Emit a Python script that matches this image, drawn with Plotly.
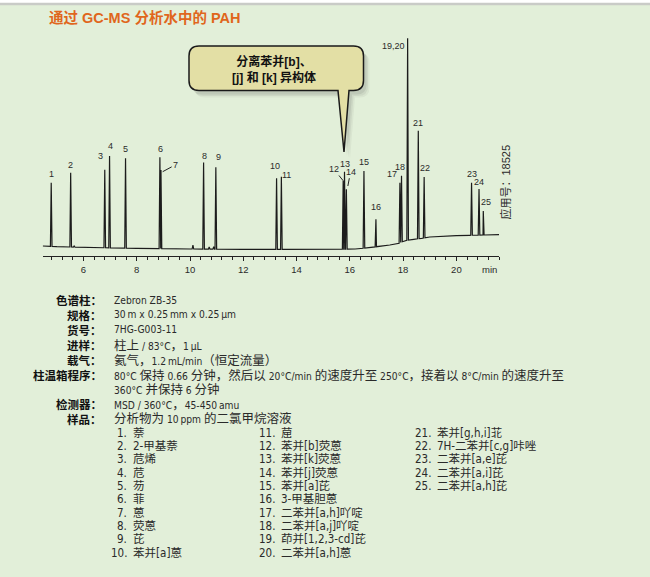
import re
import numpy as np
import plotly.graph_objects as go

W, H = 650, 577

# ---------------- data ----------------
peak_labels = ["1", "2", "3", "4", "5", "6", "7", "8", "9", "10", "11", "12", "13",
               "14", "15", "16", "17", "18", "19,20", "21", "22", "23", "24", "25"]
retention_min = [4.79, 5.52, 6.80, 6.98, 7.58, 8.87, 8.91, 10.51, 10.97, 13.25, 13.43,
                 15.75, 15.80, 15.87, 16.53, 16.98, 17.88, 17.94, 18.17, 18.57, 18.79,
                 20.57, 20.85, 21.01]
peak_response = [73.3, 83.3, 86.3, 100.0, 97.7, 98.7, 86.0, 93.5, 88.7, 77.7, 79.3,
                 75.3, 84.3, 66.7, 85.0, 36.7, 73.3, 80.3, 217.7, 125.3, 79.0,
                 73.3, 67.0, 45.0]
minor_rt = [5.65, 10.11, 10.72, 10.89]
minor_response = [10.0, 11.0, 9.0, 9.3]
baseline_t = [4.47, 5.0, 6.0, 7.2, 8.0, 10.0, 12.0, 14.0, 15.6, 16.2, 16.5, 17.0, 17.5,
              17.85, 18.05, 18.4, 18.7, 19.0, 19.5, 20.0, 20.5, 21.0, 21.6]
baseline_v = [10.0, 9.3, 8.7, 8.0, 7.7, 7.0, 6.7, 6.7, 6.7, 7.0, 7.7, 9.3, 11.0,
              12.7, 15.3, 16.7, 17.7, 19.0, 20.0, 20.3, 20.7, 21.0, 21.3]
tick_vals = [6, 8, 10, 12, 14, 16, 18, 20]

title_text = "通过 GC-MS 分析水中的 PAH"
callout_text = "分离苯并[b]、<br>[j] 和 [k] 异构体"
app_no_text = "应用号：18525"

spec_labels = ["色谱柱：", "规格：", "货号：", "进样：", "载气：", "柱温箱程序：", "",
               "检测器：", "样品："]
spec_values = ["Zebron ZB-35",
               "30\u2009m x 0.25\u2009mm x 0.25\u2009µm",
               "7HG-G003-11",
               "柱上 / 83°C，1\u2009µL",
               "氦气，1.2\u2009mL/min（恒定流量）",
               "80°C 保持 0.66 分钟，然后以 20°C/min 的速度升至 250°C，接着以 8°C/min 的速度升至",
               "360°C 并保持 6 分钟",
               "MSD / 360°C，45-450\u2009amu",
               "分析物为 10\u2009ppm 的二氯甲烷溶液"]

compound_names = ["萘", "2-甲基萘", "苊烯", "苊", "芴", "菲", "蒽", "荧蒽", "芘", "苯并[a]蒽",
                  "䓛", "苯并[b]荧蒽", "苯并[k]荧蒽", "苯并[j]荧蒽", "苯并[a]芘", "3-甲基胆蒽",
                  "二苯并[a,h]吖啶", "二苯并[a,j]吖啶", "茚并[1,2,3-cd]芘", "二苯并[a,h]蒽",
                  "苯并[g,h,i]苝", "7H-二苯并[c,g]咔唑", "二苯并[a,e]芘", "二苯并[a,i]芘",
                  "二苯并[a,h]芘"]

# ---------------- layout helpers ----------------
def px(x):
    return x / W


def py(y):
    return 1 - y / H


LAT = "Liberation Sans, Arial, Noto Sans CJK SC, sans-serif"
NARROW = "Liberation Sans Narrow, DejaVu Sans Condensed, Noto Sans CJK SC, sans-serif"
CJK = "Noto Sans CJK SC, sans-serif"
TXT = "#2a2a2a"
CJK_RUN = re.compile(r"([\u3000-\u303f\u4e00-\u9fff\u3400-\u4dbf\uff00-\uffef]+)")


def mixed(text, cjk_size):
    out = ""
    for part in CJK_RUN.split(text):
        if not part:
            continue
        if CJK_RUN.fullmatch(part):
            out += f'<span style="font-size:{cjk_size}px">{part}</span>'
        else:
            out += part
    return out


# ---------------- chromatogram trace ----------------
half_w = 0.03
pts = list(zip(baseline_t, baseline_v))
for rt, h in zip(retention_min + minor_rt, peak_response + minor_response):
    for dt in (-half_w, half_w):
        pts.append((rt + dt, float(np.interp(rt + dt, baseline_t, baseline_v))))
    pts.append((rt, h))
pts.sort(key=lambda p: p[0])
tx = [p[0] for p in pts]
ty = [p[1] for p in pts]

fig = go.Figure()
fig.add_trace(go.Scatter(x=tx, y=ty, mode="lines",
                         line=dict(color="#1c1c1c", width=1.2),
                         hoverinfo="skip", showlegend=False))

# ---------------- shapes ----------------
shapes = []
shapes.append(dict(type="rect", xref="paper", yref="paper", x0=0, x1=1, y0=0, y1=py(4.5),
                   fillcolor="#e2efd9", line=dict(width=0), layer="below"))
shapes.append(dict(type="line", xref="paper", yref="paper", x0=0, x1=1, y0=py(4), y1=py(4),
                   line=dict(color="#c9cbc7", width=2.5), layer="below"))


def callout_path(dx=0.0, dy=0.0):
    L, R, T, B, r = 189 + dx, 363.5 + dx, 46 + dy, 90.5 + dy, 10
    p1, p2, tip = 338 + dx, 349 + dx, (344 + dx, 152 + dy)
    seq = [("M", (L + r, T)), ("L", (R - r, T)), ("Q", (R, T), (R, T + r)),
           ("L", (R, B - r)), ("Q", (R, B), (R - r, B)), ("L", (p2, B)), ("L", tip),
           ("L", (p1, B)), ("L", (L + r, B)), ("Q", (L, B), (L, B - r)),
           ("L", (L, T + r)), ("Q", (L, T), (L + r, T))]
    out = ""
    for item in seq:
        cmd = item[0]
        coords = " ".join(f"{px(a):.5f},{py(b):.5f}" for a, b in item[1:])
        out += f"{cmd} {coords} "
    return out + "Z"


for off, op in [(6, 0.05), (4.5, 0.07), (3, 0.09)]:
    shapes.append(dict(type="path", xref="paper", yref="paper", path=callout_path(off, off + 1),
                       fillcolor=f"rgba(60,60,50,{op})", line=dict(width=0)))
shapes.append(dict(type="path", xref="paper", yref="paper", path=callout_path(),
                   fillcolor="#e3dfa5", line=dict(color="#1a1a1a", width=1.5)))

# ---------------- annotations ----------------
ann = []


def note(x, y, text, font, xanchor="center", **kw):
    ann.append(dict(x=px(x), y=py(y), xref="paper", yref="paper", xanchor=xanchor,
                    yanchor="middle", showarrow=False, text=text, font=font, **kw))


note(46.5, 17.5, f"<b>{title_text}</b>", dict(family=LAT, size=14.5, color="#e0661c"),
     xanchor="left")
note(274, 69.7, f"<b>{callout_text}</b>", dict(family=LAT, size=12, color="#111111"))
note(504.5, 182, app_no_text, dict(family=LAT, size=11, color=TXT), textangle=-90)
note(489, 269.5, "min", dict(family=LAT, size=9.5, color=TXT))

# peak label placement (pixel offsets of label centre from the peak apex)
label_offset = {"1": (0.5, 8.5), "2": (-0.5, 8), "3": (-4.4, 13.6), "4": (1, 10.3),
                "5": (0.3, 9.3), "6": (0.7, 8.3), "8": (0.6, 7), "9": (3, 10),
                "10": (-1.5, 12.3), "11": (4.7, 1.7), "13": (0.8, 7.7), "15": (0.3, 8.7),
                "16": (0, 12), "17": (-8, 8.4), "18": (-2, 8.7), "19,20": (-14.4, -7.4),
                "21": (0, 7.4), "22": (1, 9), "23": (0, 8.7), "24": (0, 7.3), "25": (2.7, 9)}
label_arrow = {"7": (1.7, -1.7, 13, -7), "12": (0, 0, -9.4, -11.7), "14": (1.5, 3.3, 2.7, -14.3)}

for lab, rt, h in zip(peak_labels, retention_min, peak_response):
    f = dict(family=LAT, size=9, color=TXT)
    if lab in label_arrow:
        sx, sy, ax, ay = label_arrow[lab]
        ann.append(dict(x=rt, y=h, xref="x", yref="y", xshift=sx, yshift=sy, text=lab,
                        showarrow=True, arrowhead=0, arrowwidth=1, arrowcolor="#222",
                        ax=ax, ay=ay, standoff=0, font=f))
    else:
        dx, dy = label_offset[lab]
        ann.append(dict(x=rt, y=h, xref="x", yref="y", xshift=dx, yshift=dy, text=lab,
                        xanchor="center", yanchor="middle", showarrow=False, font=f))

# method block
spec_rows_y = [300, 315, 330, 345, 360, 375, 389.5, 404, 418.5]
for lab, val, yy in zip(spec_labels, spec_values, spec_rows_y):
    if lab:
        note(104, yy, f"<b>{lab}</b>", dict(family=CJK, size=11.5, color="#111111"),
             xanchor="right")
    note(112, yy, mixed(val, 12.5), dict(family=NARROW, size=10.2, color=TXT), xanchor="left")

# compound list, three columns
col_num_end = [128.5, 276.5, 433]
col_name_x = [130.5, 278.5, 435]
for i, name in enumerate(compound_names):
    c, r = divmod(i, 10)
    yy = 432.5 + r * 13.35
    note(col_num_end[c], yy, f"{i + 1}.", dict(family=NARROW, size=11.5, color=TXT),
         xanchor="right")
    note(col_name_x[c], yy, name, dict(family=NARROW, size=11.5, color=TXT), xanchor="left")

# ---------------- axes ----------------
x_left, x_right = 4.47, 21.6
fig.update_layout(
    width=W, height=H, margin=dict(l=0, r=0, t=0, b=0),
    paper_bgcolor="white", plot_bgcolor="rgba(0,0,0,0)",
    showlegend=False, shapes=shapes, annotations=ann,
    xaxis=dict(domain=[px(42.7), px(499)], range=[x_left, x_right], showgrid=False,
               zeroline=False, showline=True, linecolor="#222", linewidth=1.2,
               ticks="outside", ticklen=4, tickwidth=1, tickcolor="#222",
               tickvals=tick_vals, ticktext=[str(v) for v in tick_vals],
               tickfont=dict(family=LAT, size=9.5, color=TXT),
               minor=dict(ticks="outside", ticklen=3, tickwidth=1, tickcolor="#222",
                          tick0=6, dtick=0.4, showgrid=False)),
    yaxis=dict(domain=[py(256), py(30)], range=[0, 226], visible=False, showgrid=False,
               zeroline=False),
)

fig.write_html("out.html", config={"displayModeBar": False},
               post_script="document.body.style.margin='0';document.body.style.overflow='hidden';")
